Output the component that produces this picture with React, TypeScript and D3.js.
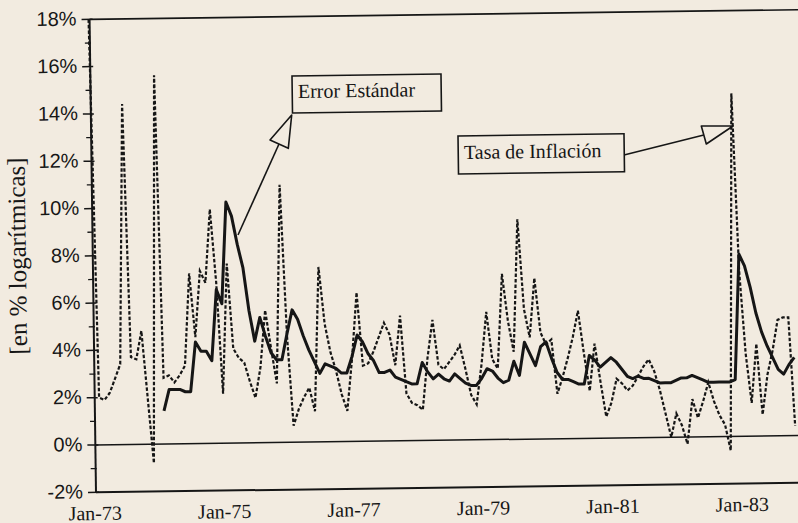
import React from 'react';
import * as d3 from 'd3';

// Monthly series, Jan-73 (index 0) to Nov-83 (index 130)
const inflation: number[] = [
  18.0, 2.0, 1.9, 2.2, 2.8, 3.4, 14.4, 3.7, 3.6, 4.8, 2.0, -0.8, 15.6,
  2.8, 2.9, 2.6, 2.9, 3.3, 7.2, 4.5, 7.3, 6.8, 9.9, 6.8, 2.1,
  7.6, 4.0, 3.6, 3.4, 2.6, 1.9, 3.2, 5.6, 4.0, 2.5, 10.9, 4.5,
  0.7, 1.4, 1.9, 2.3, 1.3, 7.4, 5.0, 3.8, 3.0, 2.0, 1.3, 3.5,
  6.3, 3.2, 3.3, 3.8, 4.4, 5.0, 4.5, 3.2, 5.3, 2.0, 1.6, 1.5,
  1.3, 3.5, 5.1, 3.2, 3.0, 3.3, 3.6, 4.0, 3.0, 1.9, 1.5, 3.2,
  5.4, 3.4, 3.0, 7.0, 5.0, 3.7, 9.3, 5.5, 4.3, 6.8, 4.5, 4.0,
  4.2, 1.9, 2.6, 3.4, 4.3, 5.4, 3.6, 2.0, 4.0, 2.4, 0.9, 1.5,
  2.5, 2.3, 2.0, 2.2, 2.6, 3.0, 3.3, 2.8, 2.0, 1.0, 0.0, 1.0,
  0.5, -0.3, 1.6, 0.8, 1.5, 2.3, 1.5, 0.9, 0.5, -0.6, 14.5, 7.0,
  3.5, 1.4, 3.9, 0.9, 2.6, 3.6, 4.9, 5.0, 5.0, 0.4,
];

const errorStd: (number | null)[] = [
  null, null, null, null, null, null, null, null, null, null, null, null, null,
  1.4, 2.3, 2.3, 2.3, 2.2, 2.2, 4.3, 3.9, 3.9, 3.5, 6.5, 5.9,
  10.2, 9.6, 8.4, 7.4, 5.6, 4.3, 5.3, 4.5, 3.8, 3.5, 3.5, 4.6,
  5.6, 5.2, 4.5, 3.9, 3.4, 2.9, 3.3, 3.2, 3.1, 2.9, 2.9, 3.6,
  4.5, 4.2, 3.7, 3.4, 2.9, 2.9, 3.0, 2.7, 2.6, 2.5, 2.4, 2.4,
  3.3, 2.9, 2.6, 2.8, 2.6, 2.5, 2.8, 2.6, 2.4, 2.3, 2.3, 2.6,
  3.0, 2.9, 2.6, 2.4, 2.5, 3.3, 2.7, 4.1, 3.6, 3.1, 3.9, 4.1,
  3.4, 2.8, 2.5, 2.5, 2.4, 2.3, 2.3, 3.5, 3.3, 3.0, 3.2, 3.4,
  3.2, 2.9, 2.6, 2.5, 2.6, 2.5, 2.5, 2.4, 2.3, 2.3, 2.3, 2.4,
  2.5, 2.5, 2.6, 2.5, 2.4, 2.3, 2.3, 2.3, 2.3, 2.3, 2.4, 7.7,
  7.2, 6.3, 5.2, 4.4, 3.8, 3.3, 2.8, 2.6, 3.0, 3.3,
];

const xTickMonths = [0, 24, 48, 72, 96, 120];
const xTickLabels = ['Jan-73', 'Jan-75', 'Jan-77', 'Jan-79', 'Jan-81', 'Jan-83'];
const yTicks = [-2, 0, 2, 4, 6, 8, 10, 12, 14, 16, 18];
const yMinorTicks = [-1, 1, 3, 5, 7, 9, 11, 13, 15, 17];
const yTitle = '[en % logarítmicas]';
const labelError = 'Error Estándar';
const labelInflation = 'Tasa de Inflación';

const BG = '#f2ebe0';
const INK = '#161616';
const SERIF = "'Liberation Serif', 'DejaVu Serif', serif";
const SANS = "'Liberation Sans', Arial, sans-serif";

const ANG = -0.78;
const PX = 96;
const PY = 492;
const rad = (ANG * Math.PI) / 180;
function toFrame(px: number, py: number): [number, number] {
  const dx = px - PX;
  const dy = py - PY;
  const c = Math.cos(-rad);
  const s = Math.sin(-rad);
  return [PX + dx * c - dy * s, PY + dx * s + dy * c];
}
function pts(list: [number, number][]) {
  return list.map((p) => toFrame(p[0], p[1]).join(',')).join(' ');
}

export default function App() {
  const W = 798;
  const H = 523;
  const x = d3.scaleLinear().domain([0, 130]).range([95, 796]);
  const y = d3.scaleLinear().domain([-2, 18]).range([492.3, 19.3]);

  const inflLine = d3
    .line<number>()
    .x((_, i) => x(i))
    .y((d) => y(d))(inflation) as string;

  const errLine = d3
    .line<number | null>()
    .defined((d) => d !== null)
    .x((_, i) => x(i))
    .y((d) => y(d as number))(errorStd) as string;

  const axisX = 96;
  const eBox = toFrame(292, 76);
  const eText = toFrame(298, 98);
  const tBox = toFrame(458, 136);
  const tText = toFrame(464, 159);
  const eL1 = toFrame(238, 235);
  const eL2 = toFrame(279, 144);
  const tL1 = toFrame(624, 155);
  const tL2 = toFrame(703.8, 135);

  return (
    <svg
      width={W}
      height={H}
      viewBox={`0 0 ${W} ${H}`}
      style={{ position: 'absolute', left: 0, top: 0, background: BG }}
    >
      <rect x={0} y={0} width={W} height={H} fill={BG} />
      <g transform={`rotate(${ANG} ${PX} ${PY})`}>
        {/* frame lines */}
        <line x1={axisX} y1={y(18)} x2={W + 10} y2={y(18)} stroke={INK} strokeWidth={1.6} />
        <line x1={axisX} y1={y(-2)} x2={W + 10} y2={y(-2)} stroke={INK} strokeWidth={2} />
        <line x1={axisX} y1={y(0)} x2={W + 10} y2={y(0)} stroke={INK} strokeWidth={1.5} />
        <line x1={axisX} y1={y(18)} x2={axisX} y2={y(-2)} stroke={INK} strokeWidth={2} />

        {/* y ticks */}
        {yTicks.map((t) => (
          <g key={'yt' + t}>
            <line x1={axisX - 8} x2={axisX + 3} y1={y(t)} y2={y(t)} stroke={INK} strokeWidth={1.5} />
            <text
              x={83}
              y={y(t) + 6}
              textAnchor="end"
              fontFamily={SANS}
              fontSize={20}
              fill={INK}
            >
              {t + '%'}
            </text>
          </g>
        ))}
        {yMinorTicks.map((t) => (
          <line key={'ym' + t} x1={axisX - 5} x2={axisX + 1} y1={y(t)} y2={y(t)} stroke={INK} strokeWidth={1.3} />
        ))}

        {/* x labels */}
        {xTickMonths.map((m, i) => (
          <text
            key={'xl' + m}
            x={x(m)}
            y={520}
            textAnchor="middle"
            fontFamily={SERIF}
            fontSize={20}
            fill={INK}
          >
            {xTickLabels[i]}
          </text>
        ))}

        {/* y title */}
        <text
          transform={`translate(29, 255) rotate(-90)`}
          textAnchor="middle"
          fontFamily={SERIF}
          fontSize={25}
          fill={INK}
        >
          {yTitle}
        </text>

        {/* series */}
        <path d={inflLine} fill="none" stroke={INK} strokeWidth={2.2} strokeDasharray="3.5,2" />
        <path d={errLine} fill="none" stroke={INK} strokeWidth={3} strokeLinejoin="round" />

        {/* annotation: Error Estándar */}
        <line x1={eL1[0]} y1={eL1[1]} x2={eL2[0]} y2={eL2[1]} stroke={INK} strokeWidth={1.6} />
        <polygon
          points={pts([
            [291.7, 115],
            [270, 140],
            [288.3, 148.3],
          ])}
          fill={BG}
          stroke={INK}
          strokeWidth={1.6}
          strokeLinejoin="round"
        />
        <rect x={eBox[0]} y={eBox[1]} width={149} height={37} fill={BG} stroke={INK} strokeWidth={1.6} />
        <text x={eText[0]} y={eText[1]} fontFamily={SERIF} fontSize={20} fill={INK}>
          {labelError}
        </text>

        {/* annotation: Tasa de Inflación */}
        <line x1={tL1[0]} y1={tL1[1]} x2={tL2[0]} y2={tL2[1]} stroke={INK} strokeWidth={1.6} />
        <polygon
          points={pts([
            [733, 126],
            [701.3, 126],
            [706.3, 144],
          ])}
          fill={BG}
          stroke={INK}
          strokeWidth={1.6}
          strokeLinejoin="round"
        />
        <rect x={tBox[0]} y={tBox[1]} width={166} height={38} fill={BG} stroke={INK} strokeWidth={1.6} />
        <text x={tText[0]} y={tText[1]} fontFamily={SERIF} fontSize={20} fill={INK}>
          {labelInflation}
        </text>
      </g>
    </svg>
  );
}
